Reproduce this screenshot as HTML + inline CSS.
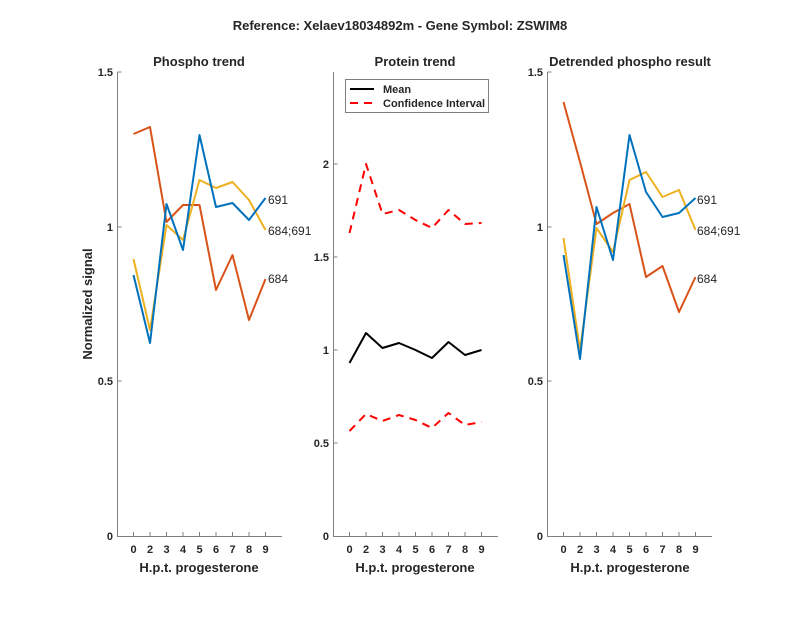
<!DOCTYPE html>
<html><head><meta charset="utf-8"><style>body{margin:0;background:#fff}svg{display:block}text{font-family:"Liberation Sans",sans-serif;fill:#262626}</style></head><body>
<svg width="800" height="618" viewBox="0 0 800 618" xmlns="http://www.w3.org/2000/svg">
<text x="400" y="30" text-anchor="middle" font-size="13" font-weight="bold">Reference:  Xelaev18034892m - Gene Symbol:  ZSWIM8</text>
<g font-size="13" font-weight="bold" text-anchor="middle">
<text x="199" y="66">Phospho trend</text>
<text x="415" y="66">Protein trend</text>
<text x="630" y="66">Detrended phospho result</text>
<text x="199" y="572">H.p.t. progesterone</text>
<text x="415" y="572">H.p.t. progesterone</text>
<text x="630" y="572">H.p.t. progesterone</text>
<text transform="translate(92,304) rotate(-90)">Normalized signal</text>
</g>
<g stroke="#808080" stroke-width="1" fill="none">
<path d="M117.5,72V536.5H282"/><path d="M333.5,72V536.5H498"/><path d="M547.5,72V536.5H712"/>
<path d="M117.5,72h4M117.5,227h4M117.5,381h4M333.5,164h4M333.5,257h4M333.5,350h4M333.5,443h4M547.5,72h4M547.5,227h4M547.5,381h4"/>
<path d="M133.5,536v-4M150,536v-4M166.5,536v-4M183,536v-4M199.5,536v-4M216,536v-4M232.5,536v-4M249,536v-4M265.5,536v-4"/>
<path d="M349.5,536v-4M366,536v-4M382.5,536v-4M399,536v-4M415.5,536v-4M432,536v-4M448.5,536v-4M465,536v-4M481.5,536v-4"/>
<path d="M563.5,536v-4M580,536v-4M596.5,536v-4M613,536v-4M629.5,536v-4M646,536v-4M662.5,536v-4M679,536v-4M695.5,536v-4"/>
</g>
<g font-size="11" font-weight="bold" text-anchor="end">
<text x="113" y="76">1.5</text><text x="113" y="231">1</text><text x="113" y="385">0.5</text><text x="113" y="540">0</text>
<text x="329" y="168">2</text><text x="329" y="261">1.5</text><text x="329" y="354">1</text><text x="329" y="447">0.5</text><text x="329" y="540">0</text>
<text x="543" y="76">1.5</text><text x="543" y="231">1</text><text x="543" y="385">0.5</text><text x="543" y="540">0</text>
</g>
<g font-size="11" font-weight="bold" text-anchor="middle">
<text y="553"><tspan x="133.5">0</tspan><tspan x="150">2</tspan><tspan x="166.5">3</tspan><tspan x="183">4</tspan><tspan x="199.5">5</tspan><tspan x="216">6</tspan><tspan x="232.5">7</tspan><tspan x="249">8</tspan><tspan x="265.5">9</tspan></text>
<text y="553"><tspan x="349.5">0</tspan><tspan x="366">2</tspan><tspan x="382.5">3</tspan><tspan x="399">4</tspan><tspan x="415.5">5</tspan><tspan x="432">6</tspan><tspan x="448.5">7</tspan><tspan x="465">8</tspan><tspan x="481.5">9</tspan></text>
<text y="553"><tspan x="563.5">0</tspan><tspan x="580">2</tspan><tspan x="596.5">3</tspan><tspan x="613">4</tspan><tspan x="629.5">5</tspan><tspan x="646">6</tspan><tspan x="662.5">7</tspan><tspan x="679">8</tspan><tspan x="695.5">9</tspan></text>
</g>
<g fill="none" stroke-width="2" stroke-linejoin="round">
<polyline stroke="#D95319" points="133.5,134 150,127 166.5,222 183,205 199.5,205 216,290 232.5,255 249,320 265.5,279"/>
<polyline stroke="#EDB120" points="133.5,259 150,330 166.5,225 183,240 199.5,180 216,188 232.5,182 249,200 265.5,230"/>
<polyline stroke="#0072BD" points="133.5,275 150,343 166.5,204 183,250 199.5,135 216,207 232.5,203 249,220 265.5,198"/>
<polyline stroke="#000" points="349.5,363 366,333 382.5,348 399,343 415.5,350 432,358 448.5,342 465,355 481.5,350"/>
<polyline stroke="#FF0000" stroke-dasharray="8,6" points="349.5,233 366,164 382.5,214 399,210 415.5,220 432,228 448.5,210 465,224 481.5,223"/>
<polyline stroke="#FF0000" stroke-dasharray="8,6" points="349.5,431 366,414 382.5,421 399,415 415.5,420 432,428 448.5,413 465,425 481.5,422"/>
<polyline stroke="#D95319" points="563.5,102 580,162 596.5,224 613,213 629.5,204 646,277 662.5,266 679,312 695.5,277"/>
<polyline stroke="#EDB120" points="563.5,238 580,350 596.5,228 613,252 629.5,180 646,172 662.5,197 679,190 695.5,230"/>
<polyline stroke="#0072BD" points="563.5,255 580,359 596.5,207 613,260 629.5,135 646,192 662.5,217 679,213 695.5,198"/>
</g>
<g font-size="12">
<text x="268" y="204">691</text><text x="268" y="235">684;691</text><text x="268" y="283">684</text>
<text x="697" y="204">691</text><text x="697" y="235">684;691</text><text x="697" y="283">684</text>
</g>
<rect x="345.5" y="79.5" width="143" height="33" fill="#fff" stroke="#808080"/>
<path d="M350,89h24" stroke="#000" stroke-width="2"/>
<path d="M350,103h24" stroke="#FF0000" stroke-width="2" stroke-dasharray="8,6"/>
<g font-size="11" font-weight="bold"><text x="383" y="93">Mean</text><text x="383" y="107">Confidence Interval</text></g>
</svg>
</body></html>
